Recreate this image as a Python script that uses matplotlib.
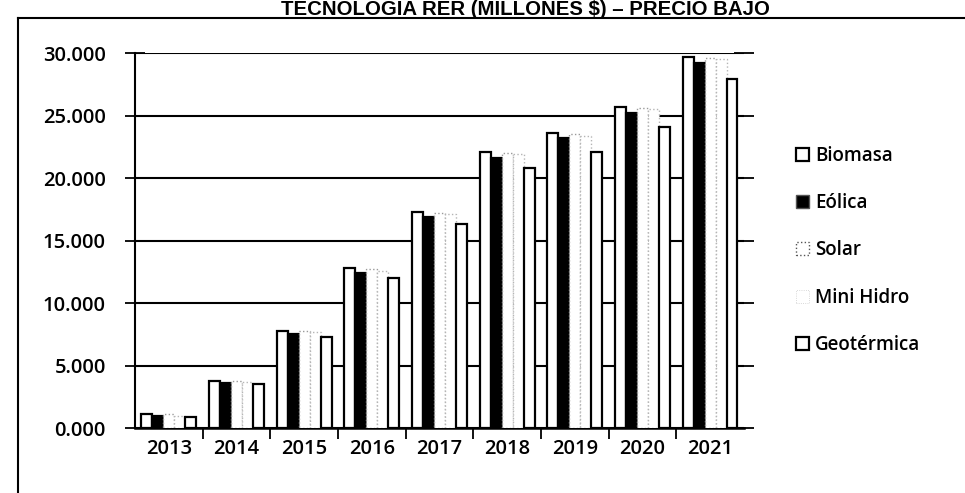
"""Recreate: TECNOLOGIA RER (MILLONES $) - PRECIO BAJO, clustered bars by year."""

import matplotlib
matplotlib.use("Agg")
import matplotlib.pyplot as plt
from matplotlib.lines import Line2D
from matplotlib.patches import Patch
from matplotlib.ticker import FixedLocator, FuncFormatter
import numpy as np

years = ["2013", "2014", "2015", "2016", "2017", "2018", "2019", "2020", "2021"]
series_names = ["Biomasa", "Eólica", "Solar", "Mini Hidro", "Geotérmica"]
biomasa = [1.1, 3.8, 7.8, 12.8, 17.3, 22.1, 23.6, 25.7, 29.7]
eolica = [1.0, 3.6, 7.5, 12.4, 16.9, 21.6, 23.2, 25.2, 29.2]
solar = [1.1, 3.8, 7.8, 12.7, 17.2, 22.0, 23.5, 25.6, 29.6]
mini_hidro = [1.0, 3.7, 7.7, 12.6, 17.1, 21.9, 23.4, 25.5, 29.5]
geotermica = [0.9, 3.5, 7.3, 12.0, 16.3, 20.8, 22.1, 24.1, 27.9]
y_ticks = [0, 5, 10, 15, 20, 25, 30]


def main() -> None:
    plt.rcParams.update(
        {
            "font.family": ["Open Sans", "DejaVu Sans"],
            "font.size": 14,
        }
    )

    fig = plt.figure(figsize=(9.65, 4.93), dpi=100)
    ax = fig.add_axes([0.1399, 0.1318, 0.631, 0.7606])

    values = [biomasa, eolica, solar, mini_hidro, geotermica]
    faces = ["white", "black", "white", "white", "white"]
    edges = ["black", "black", "#9a9a9a", "#b5b5b5", "black"]
    styles = ["-", "-", ":", ":", "-"]
    width = 0.162
    x = np.arange(len(years))
    for i, (vals, fc, ec, ls) in enumerate(zip(values, faces, edges, styles)):
        offset = (i - 2) * width
        ax.bar(
            x + offset, vals, width=width, color=fc, edgecolor=ec,
            linewidth=1.6 if ec == "black" else 1.0, linestyle=ls, zorder=3,
        )

    ax.set_xlim(-0.5, len(years) - 0.5)
    ax.set_ylim(0, 30)
    ax.set_yticks(y_ticks)
    ax.yaxis.set_major_formatter(FuncFormatter(lambda v, _: f"{v:.3f}"))
    ax.yaxis.grid(True, color="black", linewidth=1.5)
    ax.set_axisbelow(True)

    ax.set_xticks(x)
    ax.set_xticklabels(years)
    ax.xaxis.set_minor_locator(FixedLocator(x[:-1] + 0.5))
    ax.tick_params(axis="x", which="major", length=0, pad=8, labelsize=14.5)
    ax.tick_params(axis="x", which="minor", length=8, width=1.3, direction="out")
    ax.tick_params(axis="y", which="major", direction="inout", length=14,
                   width=1.3, left=True, right=True, pad=14, labelsize=14.5)

    for side in ["top", "right"]:
        ax.spines[side].set_visible(False)
    ax.spines["left"].set_linewidth(1.5)
    ax.spines["bottom"].set_linewidth(1.8)

    for lab in ax.get_xticklabels() + ax.get_yticklabels():
        lab.set_fontweight("semibold")

    handles = [
        Patch(facecolor="white", edgecolor="black", linewidth=1.6),
        Patch(facecolor="black", edgecolor="#555555", linewidth=1.0),
        Patch(facecolor="white", edgecolor="#555555", linewidth=1.0, linestyle=":"),
        Patch(facecolor="white", edgecolor="#cccccc", linewidth=0.6, linestyle=":"),
        Patch(facecolor="white", edgecolor="black", linewidth=1.6),
    ]
    fig.legend(
        handles, series_names, loc="center left", bbox_to_anchor=(0.807, 0.492),
        frameon=False, handlelength=0.7, handleheight=0.7, handletextpad=0.35,
        labelspacing=1.45, prop={"size": 13.5, "weight": "semibold"},
    )

    fig.text(0.545, 0.969, "TECNOLOGIA RER (MILLONES $) – PRECIO BAJO",
             ha="center", va="baseline", fontsize=14.7, fontweight="bold",
             family="Liberation Sans")

    # scanned frame around the chart (top and left edges only visible)
    fig.add_artist(Line2D([0.019, 1.0], [0.964, 0.964], color="black",
                          linewidth=1.5, transform=fig.transFigure))
    fig.add_artist(Line2D([0.019, 0.019], [0.0, 0.964], color="black",
                          linewidth=1.5, transform=fig.transFigure))

    fig.savefig("out.png", dpi=100)
    plt.close(fig)


if __name__ == "__main__":
    main()
